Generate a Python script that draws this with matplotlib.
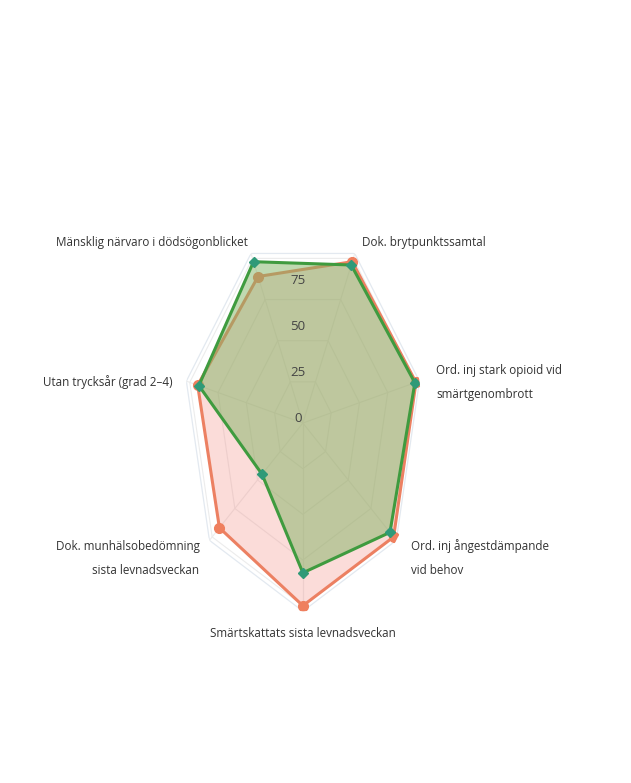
import numpy as np
import matplotlib
matplotlib.use("Agg")
import matplotlib.pyplot as plt

plt.rcParams["font.family"] = ["Open Sans", "DejaVu Sans"]

# axes go counterclockwise starting at "Mänsklig närvaro"
categories = [
    "Mänsklig närvaro i dödsögonblicket",
    "Utan trycksår (grad 2–4)",
    "Dok. munhälsobedömning\nsista levnadsveckan",
    "Smärtskattats sista levnadsveckan",
    "Ord. inj ångestdämpande\nvid behov",
    "Ord. inj stark opioid vid\nsmärtgenombrott",
    "Dok. brytpunktssamtal",
]
red_values = [89, 93, 92, 100, 100, 100, 98]
green_values = [98, 92, 45, 82, 96, 99, 96]
radial_ticks = [0, 25, 50, 75]

# label placement (ha, offset in pixels from outer vertex)
label_style = [
    ("right", (-3, 11)),
    ("right", (-14, -1)),
    ("right", (-10, -18)),
    ("center", (0, -22)),
    ("left", (15, -18)),
    ("left", (17, -1)),
    ("left", (7, 11)),
]

n = len(categories)
rmax = 103
angles = np.arange(n) * 2 * np.pi / n
closed = np.append(angles, angles[0])

fig = plt.figure(figsize=(6.31, 7.83), dpi=100)
ax = fig.add_axes([0.2906, 0.2194, 0.3788, 0.4807], projection="polar")
ax.set_aspect("auto")
ax.set_theta_offset(np.deg2rad(270) - 3 * 2 * np.pi / n)
ax.set_ylim(0, rmax)
ax.grid(False)
ax.set_xticks([])
ax.set_yticks([])
ax.spines["polar"].set_visible(False)
ax.patch.set_visible(False)

# polygon grid
for r in [25, 50, 75, 100]:
    ax.plot(closed, [r] * (n + 1), color="#ececec", lw=0.8, zorder=0)
ax.plot(closed, [rmax] * (n + 1), color="#e3e9f0", lw=0.9, zorder=0)
for a in angles:
    ax.plot([a, a], [0, rmax], color="#ececec", lw=0.8, zorder=0)

red_closed = red_values + red_values[:1]
green_closed = green_values + green_values[:1]

ax.fill(closed, red_closed, color="#f28b82", alpha=0.3, lw=0, zorder=1)
ax.plot(closed, red_closed, color="#ec8062", lw=2.2, zorder=2)
ax.plot(angles, red_values, "o", color="#ef7f5e", ms=7, zorder=2)

ax.fill(closed, green_closed, color="#82b464", alpha=0.5, lw=0, zorder=3)
ax.plot(closed, green_closed, color="#3f9b3f", lw=2.2, zorder=4)
ax.plot(angles, green_values, "D", color="#2f9a78", ms=5, zorder=4)

# radial tick labels along the vertical
theta_up = np.pi / 2 - ax.get_theta_offset()
for t in radial_ticks:
    ax.annotate(str(t), xy=(theta_up, t), xytext=(-5, 5), textcoords="offset pixels",
                ha="center", va="center", fontsize=9.5, color="#444444", zorder=6)

for a, lab, (ha, off) in zip(angles, categories, label_style):
    ax.annotate(lab, xy=(a, rmax), xytext=off, textcoords="offset pixels",
                ha=ha, va="center", multialignment=ha,
                fontsize=8.4, color="#333333", linespacing=2.1,
                annotation_clip=False)

fig.savefig("out.png", dpi=100)
